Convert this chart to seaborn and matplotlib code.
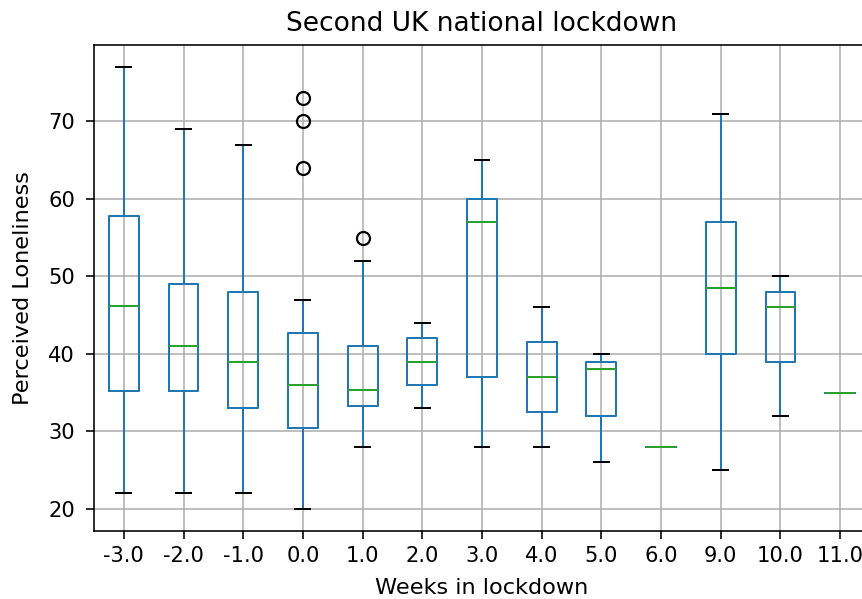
import pandas as pd
import matplotlib
matplotlib.use("Agg")
import matplotlib.pyplot as plt
import seaborn as sns

# weeks relative to the start of the second lockdown
weeks = ["-3.0", "-2.0", "-1.0", "0.0", "1.0", "2.0", "3.0",
         "4.0", "5.0", "6.0", "9.0", "10.0", "11.0"]

# loneliness scores per week
w_m3 = [22, 35.2, 46.2, 57.8, 77]
w_m2 = [22, 35.2, 41, 49, 69]
w_m1 = [22, 33, 39, 48, 67]
w_0 = [20, 24, 27, 29, 30.5, 32, 34, 35, 36, 38, 40, 41, 42.7, 47, 64, 70, 73]
w_1 = [28, 31, 33.3, 34, 35.4, 38, 41, 52, 55]
w_2 = [33, 36, 39, 42, 44]
w_3 = [28, 37, 57, 60, 65]
w_4 = [28, 32.5, 37, 41.5, 46]
w_5 = [26, 32, 38, 39, 40]
w_6 = [28]
w_9 = [25, 40, 48.5, 57, 71]
w_10 = [32, 39, 46, 48, 50]
w_11 = [35]

groups = [w_m3, w_m2, w_m1, w_0, w_1, w_2, w_3, w_4, w_5, w_6, w_9, w_10, w_11]
rows = []
for wk, vals in zip(weeks, groups):
    for v in vals:
        rows.append({"week": wk, "loneliness": v})
df = pd.DataFrame(rows)

fig = plt.figure(figsize=(862 / 144, 599 / 144), dpi=144)
# axes runs past the right edge, like the cropped original
ax = fig.add_axes([94 / 862, 68 / 599, 776 / 862, 486 / 599])

sns.boxplot(data=df, x="week", y="loneliness", order=weeks, ax=ax,
            fill=False, color="#1f77b4", width=0.5, linewidth=1.0,
            medianprops={"color": "#2ca02c", "linewidth": 1.0},
            whiskerprops={"color": "#1f77b4"},
            capprops={"color": "black", "linewidth": 1.0},
            flierprops={"marker": "o", "markerfacecolor": "none",
                        "markeredgecolor": "black", "markersize": 6.5,
                        "markeredgewidth": 1.1})

ax.grid(True, color="#b0b0b0", linewidth=0.8)
ax.set_xlim(-0.5, len(weeks) - 0.5)
ax.set_yticks([20, 30, 40, 50, 60, 70])
ax.spines["right"].set_visible(False)
ax.tick_params(axis="both", labelsize=10.5, length=4)
ax.tick_params(axis="y", pad=5.5)
ax.set_xlabel("Weeks in lockdown", fontsize=11.2)
ax.set_ylabel("Perceived Loneliness", fontsize=11.2)
ax.xaxis.set_label_coords(0.5, -0.097)
ax.yaxis.set_label_coords(-0.079, 0.5)
ax.set_title("Second UK national lockdown", fontsize=13.2, pad=7)

fig.savefig("out.png", dpi=144)
